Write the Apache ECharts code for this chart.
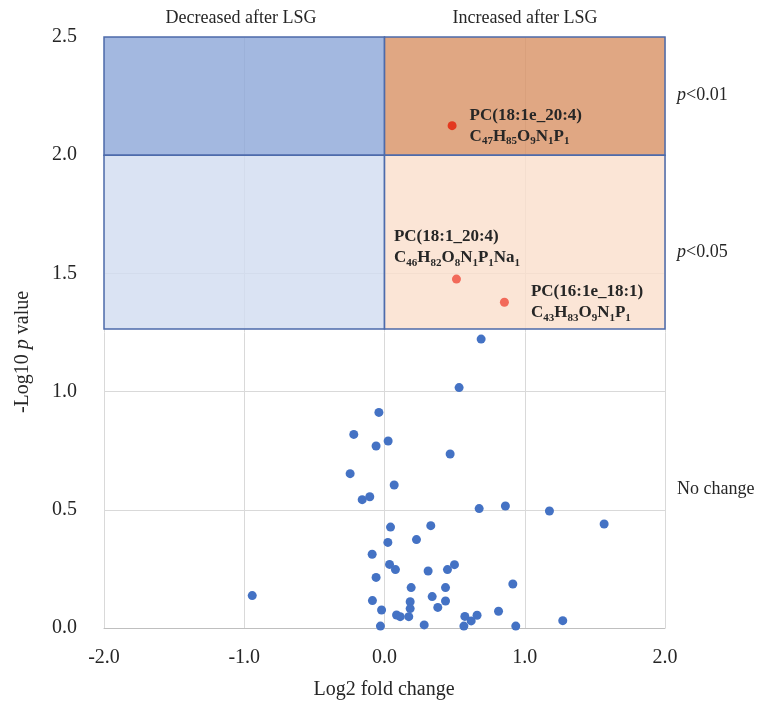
<!DOCTYPE html>
<html>
<head>
<meta charset="utf-8">
<script src="https://cdn.jsdelivr.net/npm/echarts@6/dist/echarts.min.js"></script>
<style>
  html, body { margin: 0; padding: 0; background: #fff; }
  #main { width: 761px; height: 717px; }
</style>
</head>
<body>
<div id="main"></div>
<script>
// non-significant lipids (blue)
var blueLog2FC = [0.689, 0.532, -0.04, -0.219, -0.06, 0.026, 0.468, -0.245, 0.069, -0.159,
  -0.105, 0.675, 0.043, 0.33, 0.024, 0.228, -0.088, 0.036, 0.078, 0.311,
  0.449, 0.499, -0.06, 0.19, 0.435, -0.943, 0.34, -0.086, 0.183, 0.435,
  0.38, -0.021, 0.183, 0.086, 0.112, 0.173, -0.029, 0.283, 0.573, 0.618,
  0.66, 0.566, 0.862, 1.176, 1.566, 0.915, 0.813, 0.936, 1.271];
var blueLogP = [1.222, 1.017, 0.912, 0.819, 0.770, 0.791, 0.736, 0.653, 0.605, 0.543,
  0.555, 0.505, 0.427, 0.433, 0.362, 0.374, 0.312, 0.269, 0.247, 0.241,
  0.247, 0.268, 0.214, 0.171, 0.171, 0.137, 0.133, 0.116, 0.111, 0.114,
  0.087, 0.076, 0.082, 0.055, 0.048, 0.048, 0.008, 0.013, 0.049, 0.030,
  0.054, 0.008, 0.516, 0.495, 0.440, 0.186, 0.071, 0.008, 0.031];

// significant lipids (red)
var sigNames = ['PC(18:1e_20:4)', 'PC(18:1_20:4)', 'PC(16:1e_18:1)'];
var sigFormulas = ['C47H85O9N1P1', 'C46H82O8N1P1Na1', 'C43H83O9N1P1'];
var sigLog2FC = [0.482, 0.513, 0.855];
var sigLogP = [2.125, 1.476, 1.378];

// thresholds
var p01 = 2.0;
var p05 = 1.265;
var yMax = 2.5;

var xTicks = [-2, 2, 1];   // min, max, interval
var yTicks = [0, 2.5, 0.5];

var serif = "'Liberation Serif', 'Times New Roman', serif";
var txt = '#262626';

function richFormula(f) {
  return f.replace(/([A-Z][a-z]?)(\d+)/g, '{b|$1}{s|$2}');
}

var sigColors = ['#e3391f', '#f26a5a', '#f26a5a'];
var labelCfg = [
  { position: 'right', distance: 13 },
  { position: [-58, -6], align: 'left', verticalAlign: 'bottom' },
  { position: 'right', distance: 22 }
];

var sigData = sigLog2FC.map(function (x, i) {
  var lc = labelCfg[i];
  return {
    value: [x, sigLogP[i]],
    itemStyle: { color: sigColors[i] },
    label: Object.assign({
      show: true,
      formatter: '{b|' + sigNames[i] + '}\n' + richFormula(sigFormulas[i])
    }, lc)
  };
});

var border = { borderColor: '#4d6bab', borderWidth: 1.5 };
function box(x0, y0, x1, y1, color) {
  return [
    { xAxis: x0, yAxis: y0, itemStyle: Object.assign({ color: color }, border) },
    { xAxis: x1, yAxis: y1 }
  ];
}

var chart = echarts.init(document.getElementById('main'));
chart.setOption({
  animation: false,
  textStyle: { fontFamily: serif },
  grid: { left: 104, right: 96, top: 37, bottom: 89 },
  xAxis: {
    type: 'value', min: xTicks[0], max: xTicks[1], interval: xTicks[2],
    axisLine: { show: true, onZero: false, lineStyle: { color: '#bfbfbf', width: 1 } },
    axisTick: { show: false },
    splitLine: { show: true, lineStyle: { color: '#d9d9d9', width: 1 } },
    axisLabel: { fontSize: 20, color: txt, fontFamily: serif, margin: 20,
      formatter: function (v) { return v.toFixed(1); } }
  },
  yAxis: {
    type: 'value', min: yTicks[0], max: yTicks[1], interval: yTicks[2],
    axisLine: { show: false },
    axisTick: { show: false },
    splitLine: { show: true, lineStyle: { color: '#d9d9d9', width: 1 } },
    axisLabel: { fontSize: 20, color: txt, fontFamily: serif, margin: 27,
      formatter: function (v) { return v.toFixed(1); } }
  },
  graphic: [
    { type: 'text', x: 241, y: 18, style: { text: 'Decreased after LSG', font: '18px ' + serif, fill: txt, align: 'center', verticalAlign: 'middle' } },
    { type: 'text', x: 525, y: 18, style: { text: 'Increased after LSG', font: '18px ' + serif, fill: txt, align: 'center', verticalAlign: 'middle' } },
    { type: 'text', x: 677, y: 95, style: { text: '{i|p}{n|<0.01}', verticalAlign: 'middle', rich: { i: { fontStyle: 'italic', fontSize: 18, fontFamily: serif, fill: txt }, n: { fontSize: 18, fontFamily: serif, fill: txt } } } },
    { type: 'text', x: 677, y: 252, style: { text: '{i|p}{n|<0.05}', verticalAlign: 'middle', rich: { i: { fontStyle: 'italic', fontSize: 18, fontFamily: serif, fill: txt }, n: { fontSize: 18, fontFamily: serif, fill: txt } } } },
    { type: 'text', x: 677, y: 489, style: { text: 'No change', font: '18px ' + serif, fill: txt, verticalAlign: 'middle' } },
    { type: 'text', x: 384, y: 690, style: { text: 'Log2 fold change', font: '20px ' + serif, fill: txt, align: 'center', verticalAlign: 'middle' } },
    { type: 'text', x: 23, y: 352, rotation: Math.PI / 2, style: { text: '{n|-Log10 }{i|p}{n| value}', align: 'center', verticalAlign: 'middle', rich: { i: { fontStyle: 'italic', fontSize: 20, fontFamily: serif, fill: txt }, n: { fontSize: 20, fontFamily: serif, fill: txt } } } }
  ],
  series: [
    {
      type: 'scatter',
      data: [],
      silent: true,
      markArea: {
        silent: true,
        label: { show: false },
        data: [
          box(-2, p01, 0, yMax, 'rgba(140,166,216,0.8)'),
          box(0, p01, 2, yMax, 'rgba(216,145,100,0.8)'),
          box(-2, p05, 0, p01, 'rgba(209,220,240,0.8)'),
          box(0, p05, 2, p01, 'rgba(250,222,204,0.8)')
        ]
      }
    },
    {
      type: 'scatter',
      symbolSize: 9,
      itemStyle: { color: '#4472c4', opacity: 1 },
      data: blueLog2FC.map(function (x, i) { return [x, blueLogP[i]]; })
    },
    {
      type: 'scatter',
      symbolSize: 9,
      itemStyle: { opacity: 1 },
      label: {
        color: txt,
        rich: {
          b: { fontSize: 17, fontWeight: 'bold', fontFamily: serif, color: txt, lineHeight: 21 },
          s: { fontSize: 11, fontWeight: 'bold', fontFamily: serif, color: txt, lineHeight: 10, verticalAlign: 'bottom' }
        }
      },
      data: sigData
    }
  ]
});
</script>
</body>
</html>
